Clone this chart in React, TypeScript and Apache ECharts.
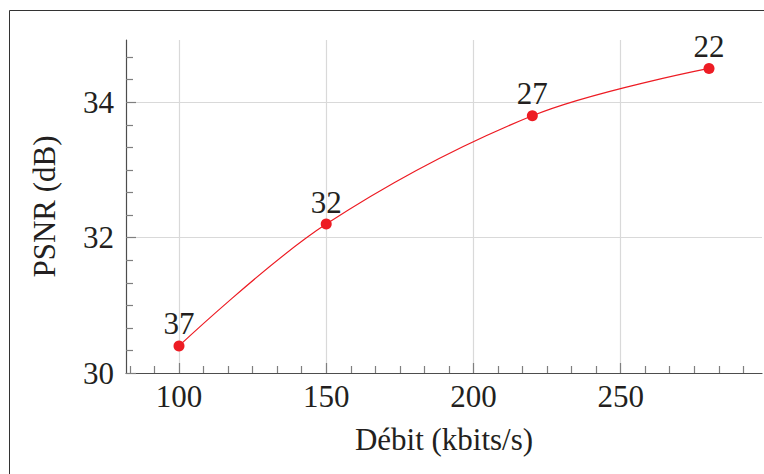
import React, { useEffect, useRef } from 'react';
import * as echarts from 'echarts';

// Data
const bitrates = [100, 150, 220, 280]; // Débit (kbits/s)
const psnr = [30.4, 32.2, 33.8, 34.5]; // PSNR (dB)
const qpLabels = ['37', '32', '27', '22'];

// Axis ticks
const xMajorTicks = [100, 150, 200, 250];
const yMajorTicks = [30, 32, 34];
const xRange = [82, 298];
const yRange = [30, 34.92];
const xMinorStep = 50 / 6;
const yMinorStep = 2 / 6;

const xMinorTicks: number[] = [];
for (let k = -2; k <= 23; k++) {
  if (k % 6 !== 0) xMinorTicks.push(+(100 + k * xMinorStep).toFixed(4));
}
const yMinorTicks: number[] = [];
for (let k = 1; k <= 14; k++) {
  if (k % 6 !== 0) yMinorTicks.push(+(30 + k * yMinorStep).toFixed(4));
}

const FONT = 'Liberation Serif, Times New Roman, serif';
const FS = 31;
const TEXT = '#231f20';
const RED = '#ed1c24';
const AXIS = '#4d4d4d';
const TICK = '#7f7f7f';
const GRID = '#d9d9d9';

export default function App() {
  const ref = useRef<HTMLDivElement>(null);

  useEffect(() => {
    if (!ref.current) return;
    const chart = echarts.init(ref.current, undefined, { renderer: 'svg' });
    const option: any = {
      animation: false,
      backgroundColor: '#ffffff',
      textStyle: { fontFamily: FONT },
      grid: { left: 126, right: 2, top: 40, bottom: 101, containLabel: false },
      graphic: [
        {
          type: 'rect',
          shape: { x: 9.5, y: 10.5, width: 820, height: 520 },
          style: { fill: 'none', stroke: '#333333', lineWidth: 1 },
          silent: true,
          z: 100,
        },
      ],
      xAxis: [
        {
          type: 'value',
          position: 'bottom',
          min: xRange[0],
          max: xRange[1],
          name: 'Débit (kbits/s)',
          nameLocation: 'middle',
          nameGap: 51,
          nameTextStyle: { fontFamily: FONT, fontSize: FS, color: TEXT },
          axisLine: { show: true, lineStyle: { color: AXIS, width: 1.2 } },
          axisTick: {
            show: true,
            inside: true,
            length: 10,
            customValues: xMajorTicks,
            lineStyle: { color: TICK, width: 1.2 },
          },
          axisLabel: {
            show: true,
            customValues: xMajorTicks,
            margin: 8,
            fontFamily: FONT,
            fontSize: FS,
            color: TEXT,
          },
          splitLine: { show: true, lineStyle: { color: GRID, width: 1.2 } },
        },
        {
          type: 'value',
          position: 'bottom',
          min: xRange[0],
          max: xRange[1],
          axisLine: { show: false },
          axisTick: {
            show: true,
            inside: true,
            length: 7,
            customValues: xMinorTicks,
            lineStyle: { color: TICK, width: 1.2 },
          },
          axisLabel: { show: false },
          splitLine: { show: false },
        },
      ],
      yAxis: [
        {
          type: 'value',
          position: 'left',
          min: yRange[0],
          max: yRange[1],
          name: 'PSNR (dB)',
          nameLocation: 'middle',
          nameGap: 66,
          nameTextStyle: { fontFamily: FONT, fontSize: FS, color: TEXT },
          axisLine: { show: true, lineStyle: { color: AXIS, width: 1.2 } },
          axisTick: {
            show: true,
            inside: true,
            length: 10,
            customValues: yMajorTicks,
            lineStyle: { color: TICK, width: 1.2 },
          },
          axisLabel: {
            show: true,
            customValues: yMajorTicks,
            margin: 12,
            fontFamily: FONT,
            fontSize: FS,
            color: TEXT,
          },
          splitLine: { show: true, lineStyle: { color: GRID, width: 1.2 } },
        },
        {
          type: 'value',
          position: 'left',
          min: yRange[0],
          max: yRange[1],
          axisLine: { show: false },
          axisTick: {
            show: true,
            inside: true,
            length: 7,
            customValues: yMinorTicks,
            lineStyle: { color: TICK, width: 1.2 },
          },
          axisLabel: { show: false },
          splitLine: { show: false },
        },
      ],
      series: [
        {
          type: 'line',
          xAxisIndex: 0,
          yAxisIndex: 0,
          data: bitrates.map((b, i) => [b, psnr[i]]),
          smooth: 0.35,
          symbol: 'circle',
          symbolSize: 11,
          lineStyle: { color: RED, width: 1.2 },
          itemStyle: { color: RED },
          label: {
            show: true,
            position: 'top',
            distance: 1,
            fontFamily: FONT,
            fontSize: FS,
            color: TEXT,
            formatter: (p: any) => qpLabels[p.dataIndex],
          },
          z: 5,
        },
      ],
    };
    chart.setOption(option);
    return () => chart.dispose();
  }, []);

  return (
    <div
      ref={ref}
      style={{ position: 'absolute', left: 0, top: 0, width: 764, height: 474 }}
    />
  );
}
